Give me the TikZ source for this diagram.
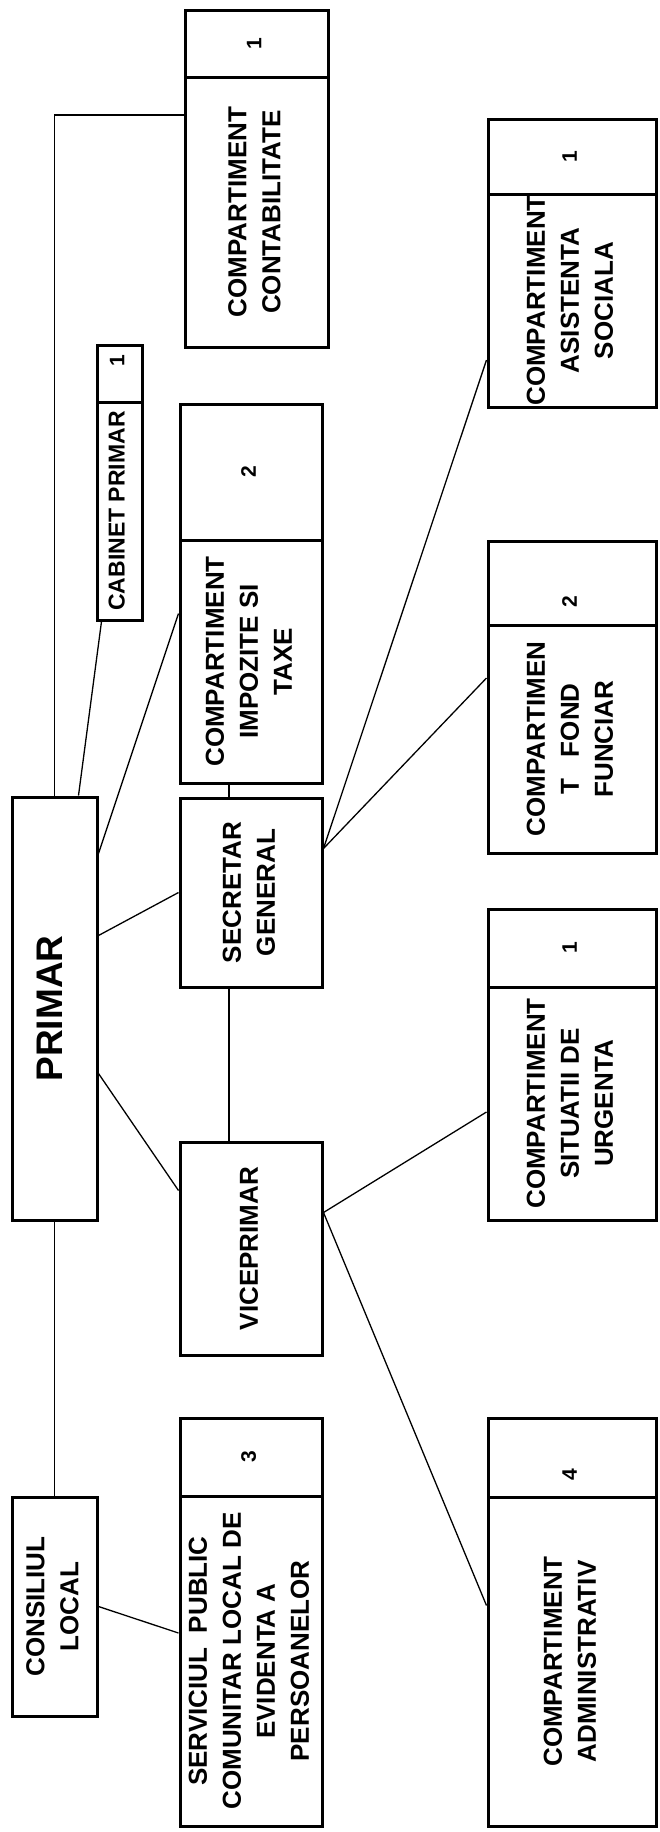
\documentclass[tikz,border=0pt]{standalone}
\usepackage{fontspec}
\setmainfont{Liberation Sans}
\usepackage{graphicx}
\newcommand\vtext[1]{\rotatebox{90}{\begin{tabular}{@{}c@{}}#1\end{tabular}}}
\tikzset{unit/.style={draw, line width=3pt, inner sep=0pt, font=\fontsize{26}{34}\selectfont\bfseries}}
\tikzset{num/.style={draw, line width=3pt, inner sep=0pt, font=\fontsize{21}{24}\selectfont\bfseries}}
\tikzset{link/.style={line width=1.3pt}}

\begin{document}
\begin{tikzpicture}[x=1pt,y=-1pt]
	\useasboundingbox (0,0) rectangle (659,1832);
	
	\node [unit] (prim) at (54.5,1008.5) [minimum width=85pt, minimum height=423pt] {\vtext{\fontsize{37}{40}\selectfont PRIMAR}};
	\node [unit] (cons) at (54.5,1606.5) [minimum width=85pt, minimum height=219pt] {\vtext{CONSILIUL\\LOCAL}};
	\node [unit] (cab) at (119.5,511) [minimum width=45pt, minimum height=218pt, font=\fontsize{23}{26}\selectfont\bfseries] {\vtext{CABINET PRIMAR}};
	\node [num] (cabn) at (119.5,373.5) [minimum width=45pt, minimum height=57pt] {\vtext{\kern26pt 1}};
	
	\node [unit] (cont) at (256.5,212) [minimum width=143pt, minimum height=270pt] {\vtext{COMPARTIMENT\\CONTABILITATE}};
	\node [num] (contn) at (256.5,43.5) [minimum width=143pt, minimum height=67pt] {\vtext{1}};
	\node [unit] (imp) at (251,661.5) [minimum width=142pt, minimum height=243pt] {\vtext{COMPARTIMENT\\IMPOZITE SI\\TAXE}};
	\node [num] (impn) at (251,472) [minimum width=142pt, minimum height=136pt] {\vtext{2}};
	\node [unit] (sec) at (251,892.5) [minimum width=142pt, minimum height=189pt] {\vtext{SECRETAR\\GENERAL}};
	\node [unit] (vice) at (251,1248.5) [minimum width=142pt, minimum height=213pt] {\vtext{VICEPRIMAR}};
	\node [unit] (serv) at (251,1661) [minimum width=142pt, minimum height=330pt] {\vtext{SERVICIUL\ \ PUBLIC\\COMUNITAR LOCAL DE\\EVIDENTA A\\PERSOANELOR}};
	\node [num] (servn) at (251,1457) [minimum width=142pt, minimum height=78pt] {\vtext{3}};
	
	\node [unit] (asis) at (572,300.5) [minimum width=168pt, minimum height=213pt] {\vtext{COMPARTIMENT\\ASISTENTA\\SOCIALA}};
	\node [num] (asisn) at (572,156.5) [minimum width=168pt, minimum height=75pt] {\vtext{1}};
	\node [unit] (fond) at (572,739) [minimum width=168pt, minimum height=228pt] {\vtext{COMPARTIMEN\\T\ \ \ FOND\\FUNCIAR}};
	\node [num] (fondn) at (572,583) [minimum width=168pt, minimum height=84pt] {\vtext{2\kern38pt}};
	\node [unit] (sit) at (572,1103.5) [minimum width=168pt, minimum height=233pt] {\vtext{COMPARTIMENT\\SITUATII DE\\URGENTA}};
	\node [num] (sitn) at (572,948) [minimum width=168pt, minimum height=78pt] {\vtext{1}};
	\node [unit] (adm) at (572,1661.5) [minimum width=168pt, minimum height=329pt] {\vtext{COMPARTIMENT\\ADMINISTRATIV}};
	\node [num] (admn) at (572,1457.5) [minimum width=168pt, minimum height=79pt] {\vtext{4\kern35pt}};
	
	\draw [link] (prim.north) |- ([yshift=97pt]cont.west);
	\draw [link] (prim.south) -- (cons.north);
	\draw [link] ([xshift=24pt]prim.north) -- ([xshift=-18pt]cab.south);
	\draw [link] ([yshift=-58pt]prim.north east) -- ([yshift=48pt]imp.west);
	\draw [link] ([yshift=-140pt]prim.north east) -- (sec.west);
	\draw [link] ([yshift=-278pt]prim.north east) -- ([yshift=58pt]vice.west);
	\draw [link] ([xshift=-22pt]imp.south) -- ([xshift=-22pt]sec.north);
	\draw [link] ([xshift=-22pt]sec.south) -- ([xshift=-22pt]vice.north);
	\draw [link] ([yshift=44pt]sec.east) -- ([yshift=-59.5pt]asis.west);
	\draw [link] ([yshift=44pt]sec.east) -- ([yshift=61pt]fond.west);
	\draw [link] ([yshift=36pt]vice.east) -- ([yshift=-8.5pt]sit.west);
	\draw [link] ([yshift=36pt]vice.east) -- ([yshift=56pt]adm.west);
	\draw [link] (cons.east) -- ([yshift=28pt]serv.west);
\end{tikzpicture}
\end{document}
